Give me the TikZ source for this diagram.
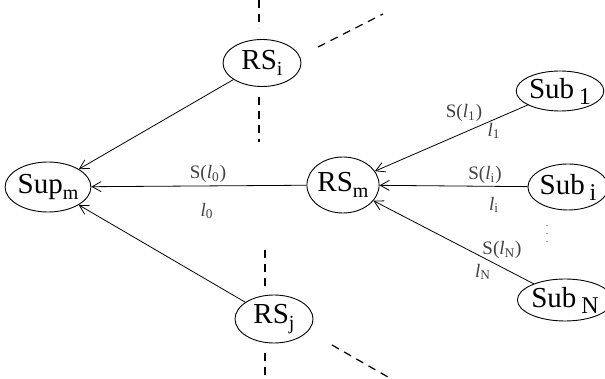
\documentclass[tikz,border=0pt]{standalone}
\usepackage{fontspec}
\setmainfont{Liberation Serif}
\usetikzlibrary{arrows.meta,shapes.geometric}
\newcommand{\bsub}[1]{\,\raisebox{-0.45ex}{\fontsize{12}{13}\selectfont #1}}
\newcommand{\ssb}[1]{\raisebox{-0.5ex}{\fontsize{10}{11}\selectfont #1}}
\begin{document}
\begin{tikzpicture}[x=0.5pt,y=-0.5pt,
  ent/.style={draw,ellipse,line width=0.45pt,inner sep=0pt,font=\fontsize{14.5}{16}\selectfont},
  arr/.style={draw,line width=0.4pt,-{Straight Barb[length=4.5pt,width=5pt]}},
  dsh/.style={draw,line width=0.6pt,dash pattern=on 4pt off 3pt},
  lab/.style={font=\fontsize{9.5}{11}\selectfont,text=black!75,inner sep=0pt}]
\useasboundingbox (0,0) rectangle (605,379);
\node[ent,minimum width=39pt,minimum height=25pt] (sup) at (48,187) {Sup\ssb{m}};
\node[ent,minimum width=39pt,minimum height=23.5pt] (rsi) at (262,63) {RS\ssb{i}};
\node[ent,minimum width=39pt,minimum height=24pt] (rsj) at (274,319) {RS\ssb{j}};
\node[ent,minimum width=31pt,minimum height=28pt] (rsm) at (343,185) {RS\ssb{m}};
\node[ent,minimum width=41pt,minimum height=20pt] (sub1) at (560,91) {Sub\bsub{1}};
\node[ent,minimum width=34pt,minimum height=23pt] (subi) at (568,187) {Sub\bsub{i}};
\node[ent,minimum width=38pt,minimum height=21pt] (subn) at (565,300) {Sub\bsub{N}};
% connectors
\draw[arr] (rsi) -- (sup);
\draw[arr] (rsj) -- (sup);
\draw[arr] (rsm) -- (sup);
\draw[arr] (sub1) -- (rsm);
\draw[arr] (subi) -- (rsm);
\draw[arr] (subn) -- (rsm);
% labels
\node[lab] (l0a) at (208,174) {S(\textit{l}\textsubscript{0})};
\node[lab] (l0b) at (207,211) {\textit{l}\textsubscript{0}};
\node[lab] (l1a) at (464,113) {S(\textit{l}\textsubscript{1})};
\node[lab] (l1b) at (494,131) {\textit{l}\textsubscript{1}};
\node[lab] (lia) at (485,175) {S(\textit{l}\textsubscript{i})};
\node[lab] (lib) at (494,205) {\textit{l}\textsubscript{i}};
\node[lab] (lna) at (502,250) {S(\textit{l}\textsubscript{N})};
\node[lab] (lnb) at (483,272) {\textit{l}\textsubscript{N}};
\node[lab,font=\fontsize{5}{5}\selectfont] (dots) at (547,228) {$\vdots$};
% dashed boundaries
\coordinate (a1) at (259,0);   \coordinate (a2) at (259,28);
\coordinate (a3) at (259,97);  \coordinate (a4) at (259,142);
\coordinate (a5) at (318,47);  \coordinate (a6) at (383,14);
\coordinate (b1) at (265,250); \coordinate (b2) at (265,286);
\coordinate (b3) at (265,353); \coordinate (b4) at (265,379);
\coordinate (b5) at (332,345); \coordinate (b6) at (388,377);
\draw[dsh] (a1) -- (a2);
\draw[dsh] (a3) -- (a4);
\draw[dsh] (a5) -- (a6);
\draw[dsh] (b1) -- (b2);
\draw[dsh] (b3) -- (b4);
\draw[dsh] (b5) -- (b6);
\end{tikzpicture}
\end{document}
